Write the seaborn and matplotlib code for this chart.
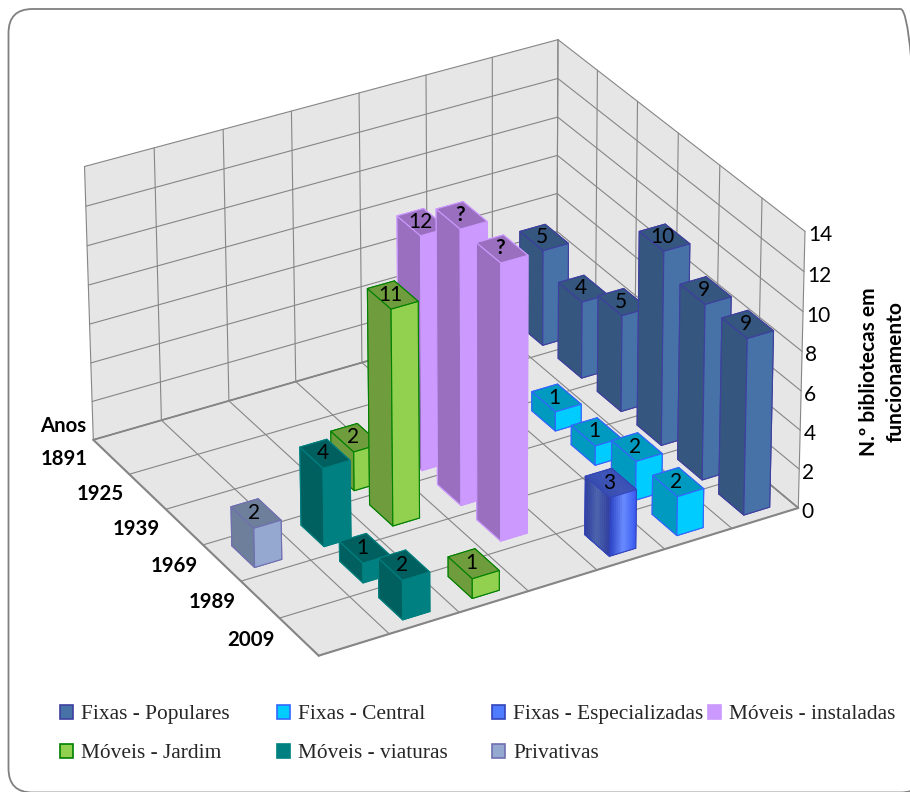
import numpy as np
import matplotlib
matplotlib.use("Agg")
import matplotlib.pyplot as plt
from matplotlib.patches import FancyBboxPatch, Patch
from mpl_toolkits.mplot3d.art3d import Poly3DCollection
import seaborn as sns

years = ["1891", "1925", "1939", "1969", "1989", "2009"]
series_names = ["Privativas", "Móveis - viaturas", "Móveis - Jardim", "Móveis - instaladas",
                "Fixas - Especializadas", "Fixas - Central", "Fixas - Populares"]
privativas = [0, 0, 0, 2, 0, 0]
viaturas = [0, 0, 0, 4, 1, 2]
jardim = [0, 0, 2, 11, 0, 1]
instaladas = [0, 0, 12, 14, 14, 0]
especializadas = [0, 0, 0, 0, 0, 3]
central = [0, 0, 1, 1, 2, 2]
populares = [5, 4, 5, 10, 9, 9]
instaladas_labels = ["", "", "12", "?", "?", ""]
z_ticks = [0, 2, 4, 6, 8, 10, 12, 14]

light_faces = ["#95a9d0", "#008080", "#92d050", "#cc99ff", "#4f7cff", "#00ccff", "#4672a8"]
dark_faces = ["#6e7f9b", "#006060", "#6f9c3c", "#9a6fbf", "#3a4fae", "#0099bf", "#34567f"]
edge_colors = ["#6f6fb0", "#008080", "#008000", "#cc99ff", "#3344bb", "#3366ff", "#3f3f9f"]

WIDTH, HEIGHT = 910, 792
BAR_DX, BAR_DY = 0.60, 0.39
GRID = "#868686"
WALL = "#e6e6e6"

sns.set_theme(style="white")
fig = plt.figure(figsize=(WIDTH / 100, HEIGHT / 100), dpi=100, facecolor="white")
ax = fig.add_axes([0, 0, 1, 1], projection="3d", computed_zorder=False, proj_type="ortho")
ax.set_axis_off()
ax.patch.set_visible(False)

# Camera: solved from where the corners of the plot box fall on the canvas.
nx, ny, nz = len(years), len(series_names), z_ticks[-1]
box_world = [(0, 0, 0), (nx, 0, 0), (nx, ny, 0), (0, ny, 0),
             (0, 0, nz), (0, ny, nz), (nx, ny, nz)]
box_canvas = [(93, 439), (319, 656), (798, 508), (557, 307),
              (84.5, 167), (558, 39.5), (805, 231)]
rows = []
for (X, Y, Z), (u, v) in zip(box_world, box_canvas):
    u, v = u / 1000, v / 1000
    rows.append([X, Y, Z, 1, 0, 0, 0, 0, -u * X, -u * Y, -u * Z, -u])
    rows.append([0, 0, 0, 0, X, Y, Z, 1, -v * X, -v * Y, -v * Z, -v])
camera = np.linalg.svd(np.array(rows))[2][-1].reshape(3, 4)
camera = camera / (camera[2] @ np.array([nx / 2, ny / 2, nz / 2, 1]))
camera[:2] *= 1000
full_camera = np.vstack([camera[0], camera[1], camera[2] - [0, 0, 0, 0.5], camera[2]])


def canvas_projection():
    # Canvas pixels are rescaled to whatever 2D limits the axes holds.
    vl = ax.viewLim
    sx = (vl.x1 - vl.x0) / WIDTH
    sy = (vl.y1 - vl.y0) / HEIGHT
    to_view = np.array([[sx, 0, 0, vl.x0],
                        [0, -sy, 0, vl.y1],
                        [0, 0, 1, 0],
                        [0, 0, 0, 1]])
    return to_view @ full_camera


ax.get_proj = canvas_projection
ax.apply_aspect = lambda position=None: None


def label_at(x, y, z, text, **style):
    # Place a label at a box position, as ordinary figure text
    u, v, w = camera @ np.array([x, y, z, 1.0])
    fig.text(u / w / WIDTH, 1 - v / w / HEIGHT, text, color="black", family="Lato",
             va="center", zorder=1000, **style)


# Walls and floor
walls = [
    [(0, 0, 0), (0, ny, 0), (0, ny, nz), (0, 0, nz)],
    [(0, ny, 0), (nx, ny, 0), (nx, ny, nz), (0, ny, nz)],
    [(0, 0, 0), (nx, 0, 0), (nx, ny, 0), (0, ny, 0)],
]
ax.add_collection3d(Poly3DCollection(walls, facecolor=WALL, edgecolor="none", zorder=1))


def grid_line(p, q, lw=0.8):
    ax.plot([p[0], q[0]], [p[1], q[1]], [p[2], q[2]], color=GRID, lw=lw, zorder=2,
            solid_capstyle="round")


for z in z_ticks:
    grid_line((0, 0, z), (0, ny, z))
    grid_line((0, ny, z), (nx, ny, z))
for j in range(ny + 1):
    grid_line((0, j, 0), (0, j, nz))
    grid_line((0, j, 0), (nx, j, 0))
for i in range(nx + 1):
    grid_line((i, ny, 0), (i, ny, nz))
    grid_line((i, 0, 0), (i, ny, 0))
grid_line((0, 0, 0), (nx, 0, 0), 1.5)
grid_line((nx, 0, 0), (nx, ny, 0), 1.5)
grid_line((0, 0, 0), (0, ny, 0), 1.3)
grid_line((nx, ny, 0), (0, ny, 0), 1.2)

# Bars, back to front so nearer ones overlap farther ones
all_series = [privativas, viaturas, jardim, instaladas, especializadas, central, populares]
light_rgb = sns.color_palette(light_faces)
dark_rgb = sns.color_palette(dark_faces)
order = 10


def column(x0, y0, dx, dy, h, minus_y, top, plus_x, edge, lw, zo):
    # face order used by bar3d: -Z, +Z, -Y, +Y, -X, +X
    faces = [top, top, minus_y, minus_y, top, plus_x]
    bar = ax.bar3d(x0, y0, 0, dx, dy, h, color=faces, shade=False,
                   edgecolor=faces if edge is None else edge, linewidth=lw)
    bar.set_zorder(zo)


def shaded_column(x0, y0, dx, dy, h, edge, zo):
    # Face gradient built from narrow slices along each visible side
    side = sns.blend_palette(["#3049c8", "#6a8cff", "#3a5bf0"], 14)
    front = sns.blend_palette(["#2e3f9e", "#4f66ad", "#33429f"], 14)
    top = "#3a4fae"
    for k in reversed(range(14)):
        column(x0, y0 + k * dy / 14, dx, dy / 14, h, side[k], top, side[k], None, 0.3, zo)
    for k in range(14):
        column(x0 + k * dx / 14, y0, dx / 14, 0.002, h, front[k], top, front[k], None, 0.3, zo)
    x1, y1 = x0 + dx, y0 + dy
    outline = [((x0, y0, 0), (x1, y0, 0)), ((x1, y0, 0), (x1, y1, 0)),
               ((x0, y0, 0), (x0, y0, h)), ((x1, y0, 0), (x1, y0, h)), ((x1, y1, 0), (x1, y1, h)),
               ((x0, y0, h), (x1, y0, h)), ((x1, y0, h), (x1, y1, h)),
               ((x1, y1, h), (x0, y1, h)), ((x0, y1, h), (x0, y0, h))]
    for p, q in outline:
        ax.plot([p[0], q[0]], [p[1], q[1]], [p[2], q[2]], color=edge, lw=0.8, zorder=zo)


for i in range(nx):
    for j in range(ny - 1, -1, -1):
        h = all_series[j][i]
        if h == 0:
            continue
        x0, y0 = i + 0.5 - BAR_DX / 2, j + 0.5 - BAR_DY / 2
        if series_names[j] == "Fixas - Especializadas":
            shaded_column(x0, y0, BAR_DX, BAR_DY, h, edge_colors[j], order)
        else:
            column(x0, y0, BAR_DX, BAR_DY, h, dark_rgb[j], dark_rgb[j], light_rgb[j],
                   edge_colors[j], 0.8, order)
        order += 1
        label = instaladas_labels[i] if series_names[j] == "Móveis - instaladas" else str(h)
        bold = label == "?"
        label_at(i + 0.5, j + 0.47, h + 0.05, label, ha="center", fontsize=15,
                 fontweight="bold" if bold else "normal")

# Axis text
for z in z_ticks:
    label_at(nx, ny + 0.05, z - 0.25, str(z), ha="left", fontsize=15)
for i, year in enumerate(years):
    label_at(i + 0.5, -0.68, 0.6, year, ha="center", fontsize=14.7, fontweight="bold")
label_at(0.5, -0.68, 2.3, "Anos", ha="center", fontsize=14.7, fontweight="bold")
fig.text(882 / WIDTH, 1 - 372 / HEIGHT, "N.º bibliotecas em\nfuncionamento", rotation=90,
         ha="center", va="center", ma="center", color="black", family="Lato",
         fontsize=15, fontweight="bold", linespacing=1.4)

# The box is drawn by hand above, so the built-in tick machinery stays empty
ax.set_xticks([])
ax.set_yticks([])
ax.set_zticks([])

# Legend columns sit at unequal offsets, so each column is its own legend
legend_columns = [(60, [6, 2]), (277, [5, 1]), (492, [4, 0]), (708, [3])]
for left, members in legend_columns:
    handles = [Patch(facecolor=light_faces[m], edgecolor=edge_colors[m], linewidth=1.2,
                     label=series_names[m]) for m in members]
    fig.legend(handles=handles, loc="upper left", bbox_to_anchor=(left / WIDTH, 1 - 705 / HEIGHT),
               frameon=False, borderpad=0, borderaxespad=0, handlelength=0.62, handleheight=0.62,
               handletextpad=0.36, labelspacing=0.9,
               prop={"family": "Liberation Serif", "size": 15.4})

# Rounded outer frame, in canvas pixels
frame = FancyBboxPatch((8.5, -0.5), 916, 783.5, boxstyle="round,pad=0,rounding_size=24",
                       facecolor="none", edgecolor="#808080", linewidth=1.3, transform=None)
fig.add_artist(frame)

fig.savefig("out.png", dpi=100)
